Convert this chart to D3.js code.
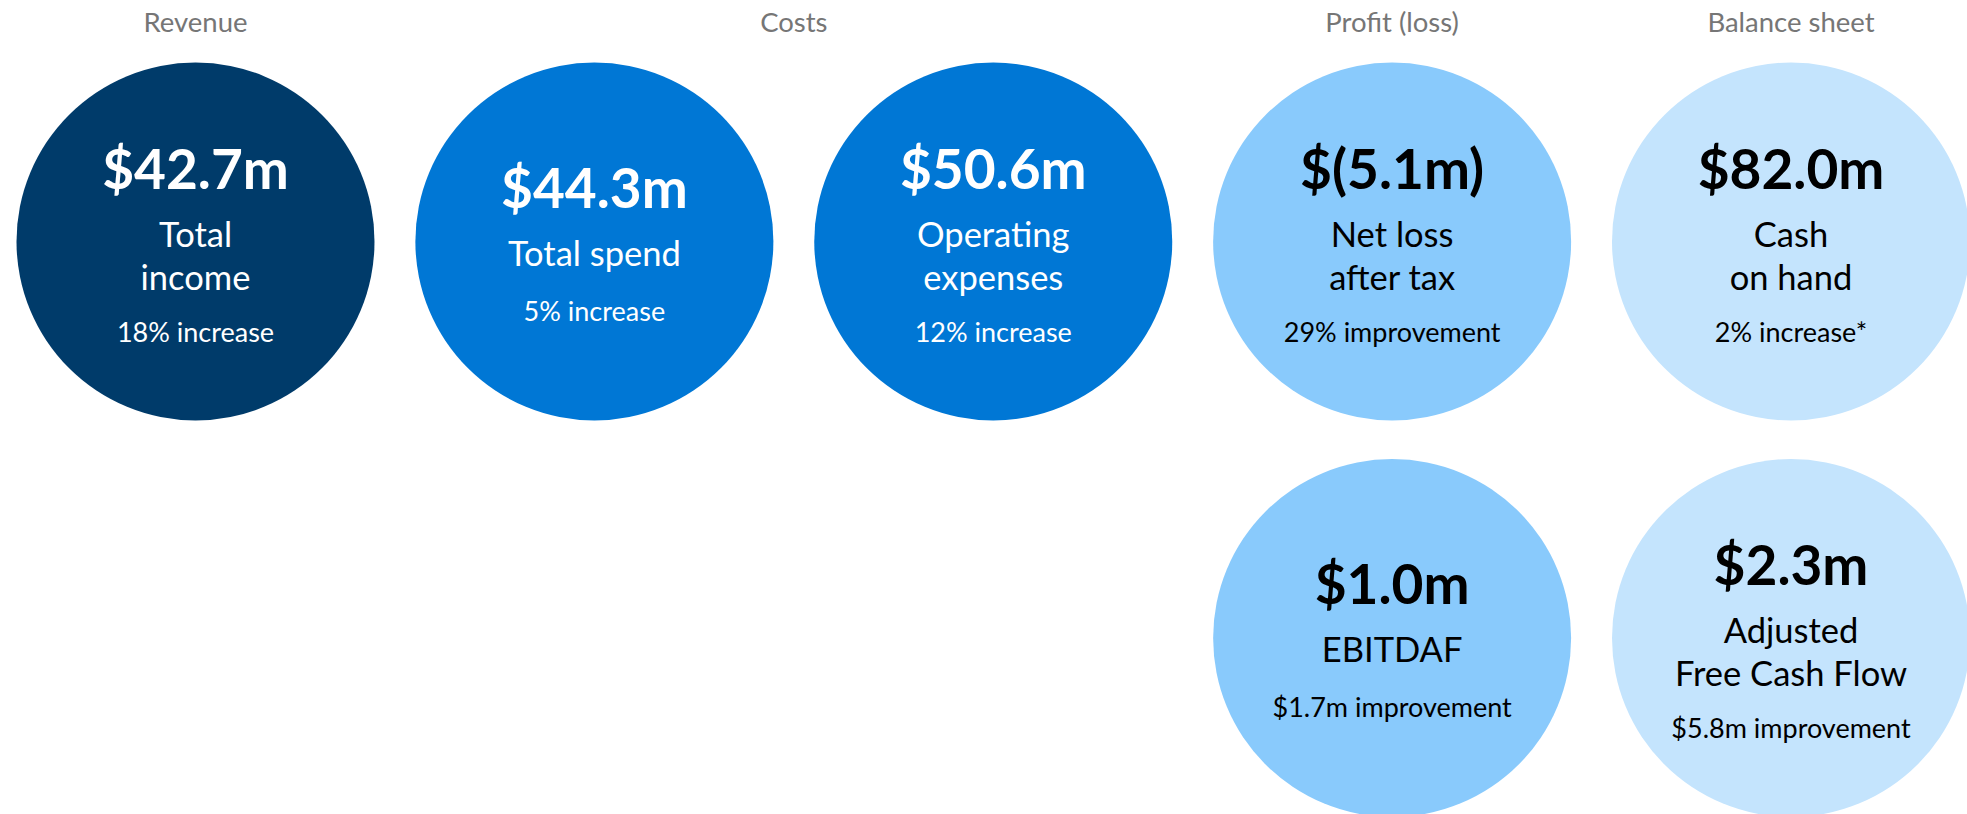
<!DOCTYPE html>
<html>
<head>
<meta charset="utf-8">
<script src="https://cdn.jsdelivr.net/npm/d3@7"></script>
<style>
    html, body { margin: 0; padding: 0; background: #fff; overflow: hidden; }
    svg { display: block; font-family: Lato, "Open Sans", sans-serif; }
</style>
</head>
<body>
<div id="chart"></div>
<script>
// group headings, one per column block
var groups = [ "Revenue", "Costs", "Profit (loss)", "Balance sheet" ];
var groupColors = [ "#003b6a", "#0077d5", "#89cafc", "#c4e4fd" ];
var groupText = [ "#ffffff", "#ffffff", "#000000", "#000000" ];

// one entry per bubble
var metricValues = [ "$42.7m", "$44.3m", "$50.6m", "$(5.1m)", "$82.0m", "$1.0m", "$2.3m" ];
var metricLabels = [
    [ "Total", "income" ],
    [ "Total spend" ],
    [ "Operating", "expenses" ],
    [ "Net loss", "after tax" ],
    [ "Cash", "on hand" ],
    [ "EBITDAF" ],
    [ "Adjusted", "Free Cash Flow" ]
];
var metricChanges = [ "18% increase", "5% increase", "12% increase", "29% improvement",
    "2% increase*", "$1.7m improvement", "$5.8m improvement" ];
var metricGroup = [ 0, 1, 1, 2, 3, 2, 3 ];
var metricCol = [ 0, 1, 2, 3, 4, 3, 4 ];
var metricRow = [ 0, 0, 0, 0, 0, 1, 1 ];

var W = 1967, H = 814, R = 179;

var svg = d3.select( "#chart" ).append( "svg" )
    .attr( "width", W )
    .attr( "height", H );

var x = d3.scalePoint().domain( d3.range( 5 ) ).range( [ 195.5, 1791 ] );
var y = d3.scalePoint().domain( [ 0, 1 ] ).range( [ 241.5, 638 ] );

var metrics = metricValues.map( function( v, i ) {
    return {
        value: v,
        label: metricLabels[ i ],
        change: metricChanges[ i ],
        group: metricGroup[ i ],
        cx: x( metricCol[ i ] ),
        cy: y( metricRow[ i ] )
    };
});

function drawTitles() {
    svg.append( "g" ).selectAll( "text" )
        .data( groups )
        .join( "text" )
        .attr( "x", function( d, g ) {
            return d3.mean( metrics.filter( function( m ) {
                return m.group === g && m.cy === y( 0 );
            }), function( m ) { return m.cx; } );
        })
        .attr( "y", 32 )
        .attr( "text-anchor", "middle" )
        .attr( "font-size", 27.5 )
        .attr( "fill", "#767676" )
        .text( function( d ) { return d; } );
}

function drawBubbles() {
    var node = svg.append( "g" ).selectAll( "g" )
        .data( metrics )
        .join( "g" )
        .attr( "transform", function( d ) { return "translate(" + d.cx + "," + d.cy + ")"; } );

    node.append( "circle" )
        .attr( "r", R )
        .attr( "fill", function( d ) { return groupColors[ d.group ]; } );

    node.each( function( d ) {
        var el = d3.select( this ),
            two = d.label.length > 1,
            fill = groupText[ d.group ],
            top = two ? -53 : -34;

        el.append( "text" )
            .attr( "y", top )
            .attr( "text-anchor", "middle" )
            .attr( "font-size", 55 )
            .attr( "font-weight", 700 )
            .attr( "fill", fill )
            .text( d.value );

        d.label.forEach( function( line, k ) {
            el.append( "text" )
                .attr( "y", top + 58 + k * 43 )
                .attr( "text-anchor", "middle" )
                .attr( "font-size", 34.5 )
                .attr( "fill", fill )
                .text( line );
        });

        el.append( "text" )
            .attr( "y", two ? 100 : 79 )
            .attr( "text-anchor", "middle" )
            .attr( "font-size", 27 )
            .attr( "fill", fill )
            .text( d.change );
    });
}

drawTitles();
drawBubbles();
</script>
</body>
</html>
